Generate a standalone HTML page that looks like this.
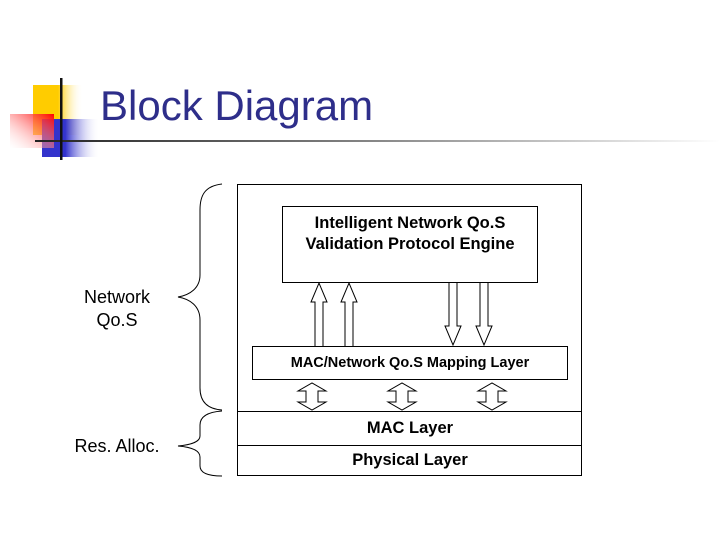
<!DOCTYPE html>
<html><head><style>body{margin:0;background:#fff}svg{display:block}</style></head><body>
<svg width="720" height="540" viewBox="0 0 720 540" xmlns="http://www.w3.org/2000/svg" font-family="Liberation Sans, sans-serif">
<defs>
<linearGradient id="ln" x1="0" x2="1"><stop offset="0" stop-color="#222"/><stop offset="0.5" stop-color="#888"/><stop offset="1" stop-color="#fff"/></linearGradient>
<linearGradient id="yl" x1="0" x2="1"><stop offset="0.5" stop-color="#ffcc00"/><stop offset="1" stop-color="#fff" stop-opacity="0"/></linearGradient>
<linearGradient id="bl" x1="0" x2="1"><stop offset="0.4" stop-color="#3333cc"/><stop offset="1" stop-color="#fff" stop-opacity="0"/></linearGradient>
<linearGradient id="rd" x1="1" x2="0" y1="0" y2="1"><stop offset="0" stop-color="#ff0000"/><stop offset="1" stop-color="#fff" stop-opacity="0.2"/></linearGradient>
</defs>
<rect x="33" y="85" width="50" height="50" fill="url(#yl)"/>
<rect x="42" y="119" width="58" height="38" fill="url(#bl)"/>
<rect x="10" y="114" width="44" height="34" fill="url(#rd)"/>
<rect x="35" y="140" width="685" height="2" fill="url(#ln)"/>
<rect x="60" y="78" width="2.5" height="82" fill="#111"/>
<text x="100" y="120" font-size="42" fill="#2e2e8a">Block Diagram</text>
<g fill="none" stroke="#000" stroke-width="1">
<rect x="237.5" y="184.5" width="344" height="291"/>
<line x1="237" y1="411.5" x2="582" y2="411.5"/>
<line x1="237" y1="445.5" x2="582" y2="445.5"/>
<rect x="282.5" y="206.5" width="255" height="76"/>
<rect x="252.5" y="346.5" width="315" height="33"/>
<path d="M222,184 C205,186 200,195 200,210 L200,275 C200,288 190,295 178,297 C190,299 200,306 200,320 L200,388 C200,402 208,409 222,410"/>
<path d="M222,411 C208,412 200,416 200,425 L200,436 C200,442 190,445 178,446 C190,447 200,450 200,457 L200,466 C200,473 208,476 222,476"/>
<path d="M315,346 V302 H311 L319,283 L327,302 H323 V346"/>
<path d="M345,346 V302 H341 L349,283 L357,302 H353 V346"/>
<path d="M449,283 V326 H445 L453,345 L461,326 H457 V283"/>
<path d="M480,283 V326 H476 L484,345 L492,326 H488 V283"/>
<path d="M306,391 V402 H298 L312,410 L326,402 H318 V391 H326 L312,383 L298,391 Z"/>
<path d="M396,391 V402 H388 L402,410 L416,402 H408 V391 H416 L402,383 L388,391 Z"/>
<path d="M486,391 V402 H478 L492,410 L506,402 H498 V391 H506 L492,383 L478,391 Z"/>
</g>
<g font-size="16.5" font-weight="bold" text-anchor="middle" fill="#000">
<text x="410" y="228">Intelligent Network Qo.S</text>
<text x="410" y="249">Validation Protocol Engine</text>
<text x="410" y="367" font-size="14.5">MAC/Network Qo.S Mapping Layer</text>
<text x="410" y="433">MAC Layer</text>
<text x="410" y="465">Physical Layer</text>
<text x="117" y="303" font-weight="normal" font-size="18">Network</text>
<text x="117" y="326" font-weight="normal" font-size="18">Qo.S</text>
<text x="117" y="452" font-weight="normal" font-size="18">Res. Alloc.</text>
</g>
</svg>
</body></html>
